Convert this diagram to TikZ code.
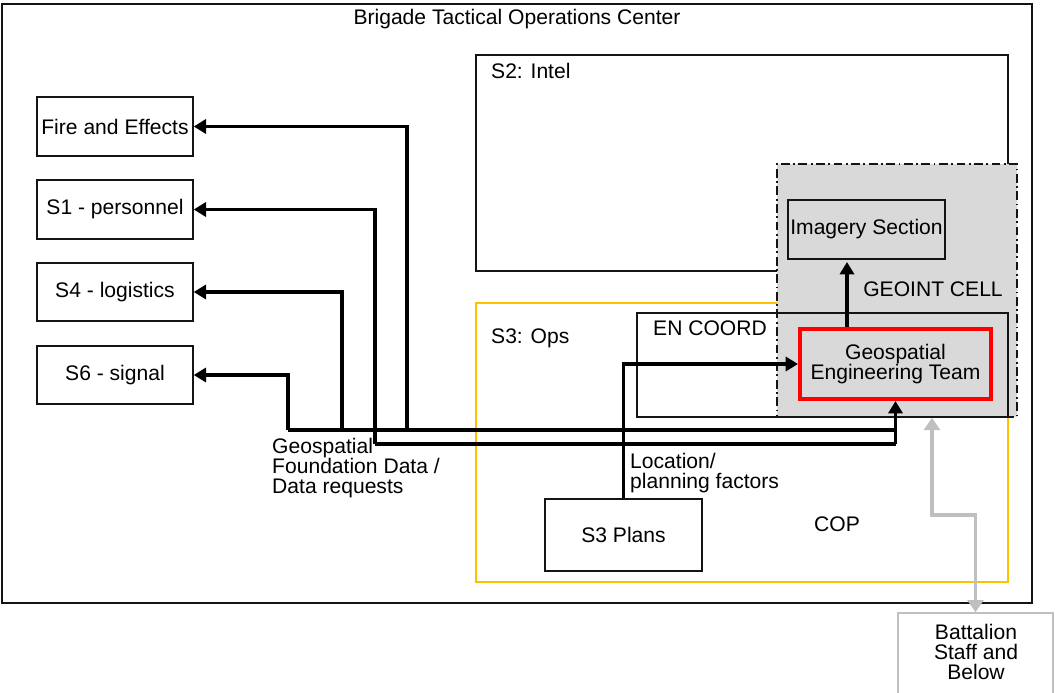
\documentclass[tikz,border=0pt]{standalone}
\usepackage{fontspec}
\setmainfont{Liberation Sans}
\usepackage{tikz}
\usetikzlibrary{arrows.meta, positioning, fit}
\definecolor{mydark}{RGB}{20,20,20}
\definecolor{myred}{RGB}{255,0,0}
\definecolor{myyellow}{RGB}{255,192,0}
\definecolor{cellgray}{RGB}{217,217,217}
\definecolor{linegray}{RGB}{191,191,191}
\tikzset{
  sbox/.style={rectangle, draw=mydark, line width=0.8pt, inner sep=0pt},
  opsbox/.style={rectangle, draw=myyellow, line width=0.8pt, inner sep=0pt},
  cellbox/.style={rectangle, draw=mydark, fill=cellgray, line width=0.8pt,
    dash pattern=on 5pt off 2pt on 1pt off 2pt, inner sep=0pt},
  teambox/.style={rectangle, draw=myred, fill=cellgray, line width=2.3pt, inner sep=0pt},
  battbox/.style={rectangle, draw=linegray, line width=0.8pt, inner sep=0pt},
  arrow/.style={-{Triangle[length=7pt,width=8pt]}, line width=1.9pt, color=black},
  line/.style={line width=1.9pt, color=black},
  grayarrow/.style={{Triangle[length=7pt,width=9pt]}-{Triangle[length=7pt,width=9pt]},
    line width=1.9pt, color=linegray}
}

\begin{document}
\begin{tikzpicture}[x=0.02cm, y=-0.02cm, every node/.style={font=\fontsize{12}{11.3}\selectfont}]
  \clip (0,0) rectangle (1055,693);
  \useasboundingbox (0,0) rectangle (1055,693);

  % Outer TOC frame
  \node[sbox, line width=1pt, fit={(2,4) (1032,603)}] (btoc) {};
  \node at (517,19) (title) {Brigade Tactical Operations Center};

  % Staff sections on the left
  \node[sbox, fit={(37,97) (193,156)}] (fire) {};
  \node at (fire.center) (firelbl) {Fire and Effects};
  \node[sbox, fit={(37,180) (193,239)}] (s1) {};
  \node at (s1.center) (s1lbl) {S1 - personnel};
  \node[sbox, fit={(37,263) (193,321)}] (s4) {};
  \node at (s4.center) (s4lbl) {S4 - logistics};
  \node[sbox, fit={(37,346) (193,404)}] (s6) {};
  \node at (s6.center) (s6lbl) {S6 - signal};

  % S2 and S3
  \node[sbox, fit={(476,55) (1008,271)}] (s2) {};
  \node[anchor=west] at (485,71) (s2lbl) {S2: Intel};
  \node[opsbox, fit={(476,303) (1008,582)}] (s3) {};
  \node[anchor=west] at (485,338) (s3lbl) {S3: Ops};

  % GEOINT cell
  \node[cellbox, fit={(777,164) (1017,417)}] (cell) {};
  \node[sbox, fit={(637,313) (1008,417)}] (encoord) {};
  \node[anchor=west] at (647,328) (enlbl) {EN COORD};
  \node at (933,289) (celllbl) {GEOINT CELL};
  \node[sbox, fit={(788,200) (945,259)}] (imagery) {};
  \node at (imagery.center) (imglbl) {Imagery Section};
  \node[teambox, fit={(800,329) (991,399)}] (get) {};
  \node[align=center] at (get.center) (getlbl) {Geospatial\\Engineering Team};

  % Plans, COP and battalion
  \node[sbox, fit={(545,499) (702,571)}] (plans) {};
  \node at (plans.center) (planslbl) {S3 Plans};
  \node at (837,524) (cop) {COP};
  \node[battbox, fit={(898,613) (1053,705)}] (batt) {};
  \node[align=center] at (976,652) (battlbl) {Battalion\\Staff and\\Below};

  % Data bus to staff sections
  \coordinate (tS6) at (288,430);
  \coordinate (tS4) at (342,430);
  \coordinate (tS1) at (375,444);
  \coordinate (tFire) at (407,430);
  \draw[line] (tS6) -- (tS6 -| get.south);
  \draw[line] (tS1) -- (tS1 -| get.south);
  \draw[arrow] (tS1 -| get.south) -- (get.south);
  \draw[arrow] (tS6) |- (s6.east);
  \draw[arrow] (tS4) |- (s4.east);
  \draw[arrow] (tS1) |- (s1.east);
  \draw[arrow] (tFire) |- (fire.east);
  \node[anchor=west, align=left] at (266,468) (datalbl) {Geospatial\\Foundation Data /\\Data requests};

  % Plans to team, team to imagery
  \draw[arrow] (plans.north) |- (get.west);
  \node[anchor=west, align=left] at (624,473) (loclbl) {Location/\\planning factors};
  \coordinate (tImg) at (847,262);
  \draw[arrow] (get.north -| tImg) -- (tImg);

  % Link to battalion
  \coordinate (kink) at (932,515);
  \draw[grayarrow] (batt.north) |- (kink) -- (kink |- cell.south);
\end{tikzpicture}
\end{document}
